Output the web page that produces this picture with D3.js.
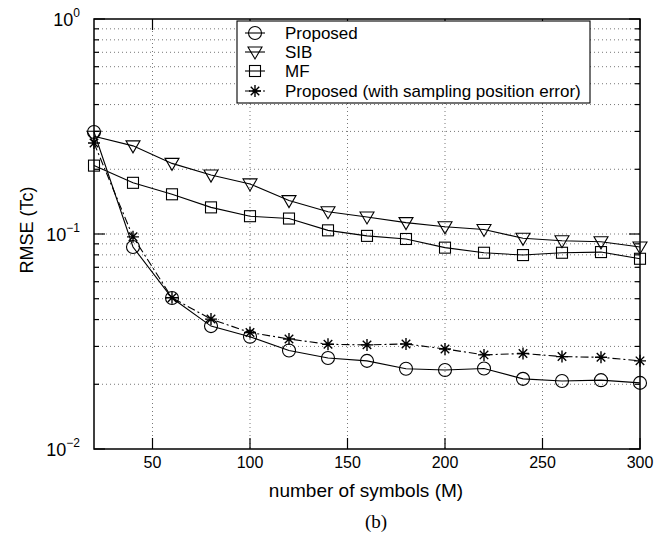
<!DOCTYPE html>
<html><head><meta charset="utf-8">
<script src="https://cdn.jsdelivr.net/npm/d3@7"></script>
<style>body{margin:0;background:#fff}svg{display:block}</style>
</head><body>
<script>
const symbols = [20,40,60,80,100,120,140,160,180,200,220,240,260,280,300];
const proposed = [0.298,0.087,0.0504,0.0373,0.0333,0.0287,0.0265,0.0257,0.0236,0.0233,0.0237,0.0212,0.0207,0.0209,0.0203];
const sib = [0.285,0.257,0.213,0.188,0.171,0.143,0.127,0.120,0.113,0.108,0.105,0.0955,0.093,0.092,0.087];
const mf = [0.208,0.173,0.153,0.133,0.121,0.118,0.104,0.098,0.0948,0.0864,0.0818,0.0798,0.0818,0.0824,0.0767];
const proposedErr = [0.265,0.097,0.0505,0.0402,0.0348,0.0325,0.0307,0.0305,0.0308,0.0292,0.0274,0.0278,0.0269,0.0267,0.0257];
const xTicks = [50,100,150,200,250,300];
const yMajor = [-2,-1,0];
const legendLabels = ["Proposed","SIB","MF","Proposed (with sampling position error)"];

const W=666,H=535;
const m={l:94,r:640,t:19,b:449};
const svg=d3.select("body").append("svg").attr("width",W).attr("height",H);
const x=d3.scaleLinear().domain([20,300]).range([m.l,m.r]);
const y=d3.scaleLog().domain([0.01,1]).range([m.b,m.t]);
const font="Liberation Sans, Arial, Helvetica, sans-serif";

const minor=[];
[0.01,0.1].forEach(d=>{for(let k=2;k<=9;k++)minor.push(d*k);});
const gridY=minor.concat([0.1]);
const g=svg.append("g");
g.selectAll("line.gy").data(gridY).enter().append("line")
 .attr("x1",m.l).attr("x2",m.r).attr("y1",d=>y(d)).attr("y2",d=>y(d))
 .attr("stroke","#555").attr("stroke-width",0.8).attr("stroke-dasharray","1,3");
g.selectAll("line.gx").data(xTicks.filter(d=>d<300)).enter().append("line")
 .attr("x1",d=>x(d)).attr("x2",d=>x(d)).attr("y1",m.t).attr("y2",m.b)
 .attr("stroke","#555").attr("stroke-width",0.8).attr("stroke-dasharray","1,3");
const tk=svg.append("g").attr("stroke","#000").attr("stroke-width",1.2);
xTicks.forEach(d=>{
  tk.append("line").attr("x1",x(d)).attr("x2",x(d)).attr("y1",m.b).attr("y2",m.b-11);
  tk.append("line").attr("x1",x(d)).attr("x2",x(d)).attr("y1",m.t).attr("y2",m.t+11);
});
minor.forEach(d=>{
  tk.append("line").attr("x1",m.l).attr("x2",m.l+5).attr("y1",y(d)).attr("y2",y(d));
  tk.append("line").attr("x1",m.r).attr("x2",m.r-5).attr("y1",y(d)).attr("y2",y(d));
});
yMajor.forEach(e=>{
  const v=Math.pow(10,e);
  tk.append("line").attr("x1",m.l).attr("x2",m.l+11).attr("y1",y(v)).attr("y2",y(v));
  tk.append("line").attr("x1",m.r).attr("x2",m.r-11).attr("y1",y(v)).attr("y2",y(v));
});
svg.append("rect").attr("x",m.l).attr("y",m.t).attr("width",m.r-m.l).attr("height",m.b-m.t)
 .attr("fill","none").attr("stroke","#000").attr("stroke-width",1.5);

svg.selectAll("text.xt").data(xTicks).enter().append("text")
 .attr("x",d=>x(d)).attr("y",m.b+19).attr("text-anchor","middle")
 .attr("font-family",font).attr("font-size",16).text(d=>d);
yMajor.forEach(e=>{
  const t=svg.append("text").attr("x",m.l-14).attr("y",y(Math.pow(10,e))+6.5)
   .attr("text-anchor","end").attr("font-family",font).attr("font-size",18);
  t.append("tspan").text("10");
  t.append("tspan").attr("dy",-9).attr("font-size",12).text(e===0?"0":"\u2212"+Math.abs(e));
});
svg.append("text").attr("x",366).attr("y",497).attr("text-anchor","middle")
 .attr("font-family",font).attr("font-size",19).text("number of symbols (M)");
svg.append("text").attr("transform","translate(33,230) rotate(-90)").attr("text-anchor","middle")
 .attr("font-family",font).attr("font-size",18).text("RMSE (Tc)");
svg.append("text").attr("x",376).attr("y",528).attr("text-anchor","middle")
 .attr("font-family","Liberation Serif, Times New Roman, serif").attr("font-size",19).text("(b)");

function drawMarker(sel,type,cx,cy){
  if(type==="circle") sel.append("circle").attr("cx",cx).attr("cy",cy).attr("r",6.5).attr("fill","none").attr("stroke","#000").attr("stroke-width",1.1);
  else if(type==="tri") sel.append("path").attr("d",`M${cx-7},${cy-5}L${cx+7},${cy-5}L${cx},${cy+7}Z`).attr("fill","none").attr("stroke","#000").attr("stroke-width",1.1);
  else if(type==="sq") sel.append("rect").attr("x",cx-5.5).attr("y",cy-5.5).attr("width",11).attr("height",11).attr("fill","none").attr("stroke","#000").attr("stroke-width",1.1);
  else if(type==="star"){
    const r=6,p=[];
    [0,45,90,135].forEach(a=>{const rad=a*Math.PI/180;p.push(`M${cx-r*Math.cos(rad)},${cy-r*Math.sin(rad)}L${cx+r*Math.cos(rad)},${cy+r*Math.sin(rad)}`);});
    sel.append("path").attr("d",p.join("")).attr("stroke","#000").attr("stroke-width",1.4);
  }
}
const series=[
  {vals:proposed,type:"circle",dash:null},
  {vals:sib,type:"tri",dash:null},
  {vals:mf,type:"sq",dash:null},
  {vals:proposedErr,type:"star",dash:"8,3,2,3"}
];
const line=d3.line().x((d,i)=>x(symbols[i])).y(d=>y(d));
series.forEach(s=>{
  const gg=svg.append("g");
  gg.append("path").attr("d",line(s.vals)).attr("fill","none").attr("stroke","#000").attr("stroke-width",1.1)
    .attr("stroke-dasharray",s.dash);
  s.vals.forEach((v,i)=>drawMarker(gg,s.type,x(symbols[i]),y(v)));
});

const lg=svg.append("g");
lg.append("rect").attr("x",237).attr("y",21).attr("width",353).attr("height",82)
 .attr("fill","#fff").attr("stroke","#000").attr("stroke-width",1.1);
const rowY=[33,52,71,91];
series.forEach((s,i)=>{
  lg.append("line").attr("x1",245).attr("x2",265).attr("y1",rowY[i]).attr("y2",rowY[i])
   .attr("stroke","#000").attr("stroke-width",1.1).attr("stroke-dasharray",s.dash?"5,2,2,2":null);
  drawMarker(lg,s.type,255,rowY[i]);
  lg.append("text").attr("x",285).attr("y",rowY[i]+6).attr("font-family",font).attr("font-size",17).text(legendLabels[i]);
});
</script>
</body></html>
